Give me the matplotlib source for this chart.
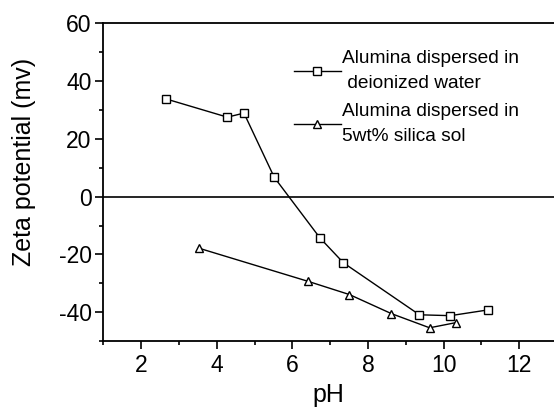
import matplotlib
matplotlib.use('Agg')
from matplotlib import pyplot as plt
from matplotlib.ticker import MultipleLocator

plt.rcParams['font.family'] = ['Liberation Sans', 'DejaVu Sans']
plt.rcParams['axes.unicode_minus'] = False

# alumina in deionized water
ph_water = [2.66, 4.28, 4.72, 5.52, 6.73, 7.35, 9.36, 10.18, 11.18]
zeta_water = [33.8, 27.5, 28.9, 6.7, -14.3, -22.9, -40.9, -41.2, -39.2]

# alumina in 5wt% silica sol
ph_sol = [3.54, 6.41, 7.51, 8.62, 9.63, 10.33]
zeta_sol = [-17.9, -29.3, -33.9, -40.5, -45.4, -43.6]

labels = ['Alumina dispersed in\n deionized water',
          'Alumina dispersed in\n5wt% silica sol']

fig = plt.figure(figsize=(5.54, 4.08), dpi=100)
ax = fig.add_axes([0.1865, 0.164, 0.8135, 0.779])

ax.plot(ph_water, zeta_water, '-s', color='black', lw=1, ms=5.5,
        mfc='white', mec='black', mew=1, label=labels[0])
ax.plot(ph_sol, zeta_sol, '-^', color='black', lw=1, ms=5.5,
        mfc='white', mec='black', mew=1, label=labels[1])
ax.axhline(0, color='black', lw=1.2)

ax.set_xlim(1, 12.92)
ax.set_ylim(-50, 60)
ax.xaxis.set_major_locator(MultipleLocator(2))
ax.xaxis.set_minor_locator(MultipleLocator(1))
ax.yaxis.set_major_locator(MultipleLocator(20))
ax.yaxis.set_minor_locator(MultipleLocator(10))
ax.tick_params(which='both', direction='out', width=1.2, labelsize=16.5)
ax.tick_params(which='major', length=5.5)
ax.tick_params(axis='y', which='major', pad=3)
ax.tick_params(axis='x', which='major', pad=4)
ax.tick_params(which='minor', length=3)
ax.spines['right'].set_visible(False)
for s in ['left', 'bottom', 'top']:
    ax.spines[s].set_linewidth(1.3)

ax.set_xlabel('pH', fontsize=18, labelpad=4)
ax.set_ylabel('Zeta potential (mv)', fontsize=18)
ax.yaxis.set_label_coords(-0.15, 0.565)

leg = ax.legend(loc='upper left', bbox_to_anchor=(0.405, 0.94), frameon=False,
                fontsize=13.8, handlelength=2.5, handletextpad=0.05,
                labelspacing=0.55, borderaxespad=0)
for t in leg.get_texts():
    t.set_linespacing(1.65)

plt.savefig('out.png', dpi=100)
plt.close()
